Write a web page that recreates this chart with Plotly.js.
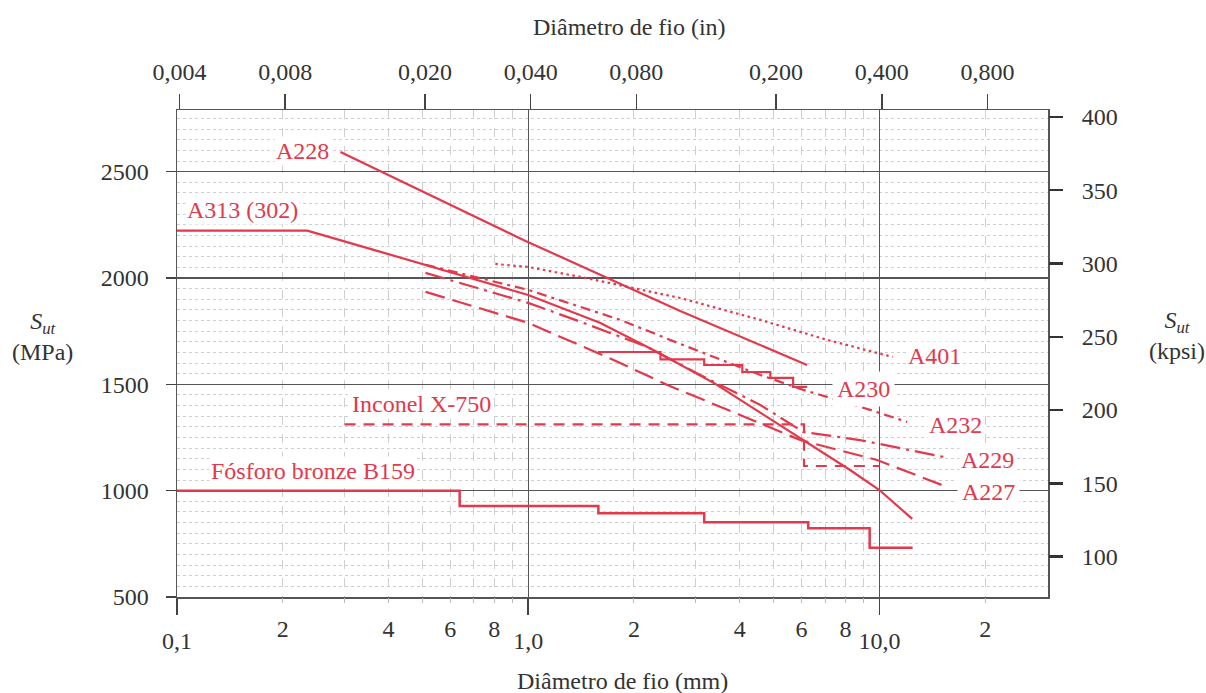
<!DOCTYPE html>
<html><head><meta charset="utf-8">
<script src="https://cdn.plot.ly/plotly-3.0.1.min.js"></script>
<style>html,body{margin:0;padding:0;background:#fff}#chart{width:1206px;height:693px}</style>
</head><body><div id="chart"></div>
<script>
// ---------- data (wire diameter in mm, Sut in MPa) ----------
const A228_d = [0.292, 0.969, 2.709, 6.22];
const A228_S = [2593, 2179, 1845, 1591];

const A313_d = [0.1, 0.235, 0.38, 0.51, 1.0, 1.6, 2.33, 3.41, 5.15, 8.25, 10.0, 12.4];
const A313_S = [2223, 2223, 2123, 2062, 1920, 1790, 1652, 1502, 1314, 1097, 1003, 867];

const A401_d = [0.806, 1.0, 1.41, 2.71, 4.58, 7.1, 10.9];
const A401_S = [2066, 2052, 2005, 1906, 1803, 1709, 1629];

const A232_d = [0.51, 1.0, 1.83, 2.71, 4.58, 6.07, 9.41, 12.0];
const A232_S = [2062, 1944, 1803, 1690, 1544, 1474, 1380, 1323];

const A229_d = [0.51, 1.0, 1.41, 2.18, 3.09, 4.58, 6.07, 8.81, 15.2];
const A229_S = [2024, 1883, 1794, 1676, 1544, 1403, 1276, 1238, 1159];

const A227_d = [0.51, 1.0, 1.75, 2.49, 4.01, 5.95, 9.85, 15.6];
const A227_S = [1935, 1789, 1615, 1497, 1356, 1238, 1144, 1017];

const A230_d = [1.58, 2.38, 3.17, 4.07, 4.89, 5.68, 6.23];
const A230_S = [1652, 1617, 1591, 1558, 1530, 1488, 1488];

const inconel_d = [0.3, 6.1, 10.0];
const inconel_S = [1312, 1116, 1116];

const B159_d = [0.1, 0.638, 1.584, 3.17, 6.27, 9.38, 12.43];
const B159_S = [1000, 928, 894, 851, 823, 732, 732];

// ---------- tick labels ----------
const mmMinorLabelVals = [0.2, 0.4, 0.6, 0.8, 2, 4, 6, 8, 20];
const mmMinorLabels    = ['2', '4', '6', '8', '2', '4', '6', '8', '2'];
const mmMinorGridVals  = [0.3, 0.5, 0.7, 0.9, 3, 5, 7, 9];
const mmDecadeVals     = [0.1, 1, 10];
const mmDecadeLabels   = ['0,1', '1,0', '10,0'];
const inTickVals   = [0.004, 0.008, 0.02, 0.04, 0.08, 0.2, 0.4, 0.8];
const inTickLabels = ['0,004', '0,008', '0,020', '0,040', '0,080', '0,200', '0,400', '0,800'];
const mpaTickVals  = [500, 1000, 1500, 2000, 2500];
const kpsiTickVals = [100, 150, 200, 250, 300, 350, 400];

const seriesNames = ['A228', 'A313 (302)', 'A401', 'A230', 'A232', 'A229', 'A227', 'Inconel X-750', 'Fósforo bronze B159'];

// ---------- styling ----------
const RED = '#e2394c';
const FONT = '"Liberation Serif", "Times New Roman", serif';
const L = 176.5, R = 1048, T = 110, B = 597;
const PX = x => (x - L) / (R - L);
const PY = y => (B - y) / (B - T);

const X_RANGE = [-1, 1.48];
const MM_PER_IN = 25.4;
const MPA_PER_KSI = 6.894757;
const Y_RANGE = [500, 2790];

function tr(name, d, s, dash, extra) {
  return Object.assign({
    type: 'scatter', mode: 'lines', name: name, x: d, y: s,
    xaxis: 'x', yaxis: 'y', hoverinfo: 'skip',
    line: { color: RED, width: 2.2, dash: dash }
  }, extra || {});
}

const data = [
  tr(seriesNames[0], A228_d, A228_S, 'solid'),
  tr(seriesNames[1], A313_d, A313_S, 'solid'),
  tr(seriesNames[2], A401_d, A401_S, '2.5px,3.5px'),
  tr(seriesNames[3], A230_d, A230_S, 'solid', { line: { color: RED, width: 2.2, shape: 'hv' } }),
  tr(seriesNames[4], A232_d, A232_S, '10px,5px,3px,5px'),
  tr(seriesNames[5], A229_d, A229_S, '20px,6px,3px,6px'),
  tr(seriesNames[6], A227_d, A227_S, '20px,8px'),
  tr(seriesNames[7], inconel_d, inconel_S, '11px,8px', { line: { color: RED, width: 2.2, dash: '11px,8px', shape: 'hv' } }),
  tr(seriesNames[8], B159_d, B159_S, 'solid', { line: { color: RED, width: 2.5, shape: 'hv' } }),
  // empty traces so the extra axes are registered
  { type: 'scatter', x: [], y: [], xaxis: 'x2', yaxis: 'y', hoverinfo: 'skip', showlegend: false },
  { type: 'scatter', x: [], y: [], xaxis: 'x3', yaxis: 'y', hoverinfo: 'skip', showlegend: false },
  { type: 'scatter', x: [], y: [], xaxis: 'x', yaxis: 'y2', hoverinfo: 'skip', showlegend: false }
];

const tickFont = { family: FONT, size: 24, color: '#333' };
const GRID_MINOR = '#cfcfcf';
const GRID_MAJOR = '#555';

const layout = {
  width: 1206, height: 693,
  margin: { l: L, r: 1206 - R, t: T, b: 693 - B, pad: 0 },
  paper_bgcolor: '#fff', plot_bgcolor: '#fff',
  showlegend: false,
  font: { family: FONT, size: 24, color: '#333' },
  xaxis: {
    type: 'log', range: X_RANGE, fixedrange: true,
    tickmode: 'array', tickvals: mmMinorLabelVals, ticktext: mmMinorLabels,
    ticks: 'outside', ticklen: 5, tickwidth: 1, tickcolor: '#bbb',
    tickfont: tickFont, ticklabelstandoff: 5,
    showgrid: true, gridcolor: GRID_MINOR, griddash: 'dash', gridwidth: 1,
    minor: { tickmode: 'array', tickvals: mmMinorGridVals, ticks: 'outside', ticklen: 5, tickcolor: '#bbb',
             showgrid: true, gridcolor: GRID_MINOR, griddash: 'dash', gridwidth: 1 },
    showline: false, zeroline: false
  },
  xaxis3: {
    type: 'log', range: X_RANGE, overlaying: 'x', side: 'bottom', anchor: 'y', fixedrange: true,
    tickmode: 'array', tickvals: mmDecadeVals, ticktext: mmDecadeLabels,
    ticks: 'outside', ticklen: 16, tickwidth: 1.5, tickcolor: '#444',
    tickfont: tickFont, ticklabelstandoff: 6,
    showgrid: true, gridcolor: GRID_MAJOR, gridwidth: 1.3,
    showline: true, linecolor: '#555', linewidth: 1.5, mirror: true, zeroline: false
  },
  xaxis2: {
    type: 'log', overlaying: 'x', side: 'top', anchor: 'y', fixedrange: true,
    range: [X_RANGE[0] - Math.log10(MM_PER_IN), X_RANGE[1] - Math.log10(MM_PER_IN)],
    tickmode: 'array', tickvals: inTickVals, ticktext: inTickLabels,
    ticks: 'outside', ticklen: 15, tickwidth: 1.5, tickcolor: '#444',
    tickfont: tickFont, ticklabelstandoff: 4,
    showgrid: false, showline: false, zeroline: false
  },
  yaxis: {
    range: Y_RANGE, fixedrange: true,
    tickmode: 'array', tickvals: mpaTickVals,
    ticks: 'outside', ticklen: 10, tickwidth: 1.5, tickcolor: '#444',
    tickfont: tickFont, ticklabelstandoff: 12,
    showgrid: true, gridcolor: GRID_MAJOR, gridwidth: 1.3,
    minor: { dtick: 50, showgrid: true, gridcolor: GRID_MINOR, griddash: 'dot', gridwidth: 1, ticks: '' },
    showline: true, linecolor: '#555', linewidth: 1.5, mirror: true, zeroline: false
  },
  yaxis2: {
    overlaying: 'y', side: 'right', anchor: 'x', fixedrange: true,
    range: [Y_RANGE[0] / MPA_PER_KSI, Y_RANGE[1] / MPA_PER_KSI],
    tickmode: 'array', tickvals: kpsiTickVals,
    ticks: 'outside', ticklen: 14, tickwidth: 2.5, tickcolor: '#333',
    tickfont: tickFont, ticklabelstandoff: 14,
    showgrid: false, showline: false, zeroline: false
  },
  annotations: []
};

function ann(text, x, y, opts) {
  return Object.assign({
    text: text, xref: 'paper', yref: 'paper', x: PX(x), y: PY(y),
    xanchor: 'center', yanchor: 'middle', showarrow: false,
    font: { family: FONT, size: 24, color: RED },
    bgcolor: 'rgba(255,255,255,1)', borderpad: 1
  }, opts || {});
}

// series labels
layout.annotations.push(ann(seriesNames[0], 302, 151));
layout.annotations.push(ann(seriesNames[1], 242, 210));
layout.annotations.push(ann(seriesNames[2], 934, 356));
layout.annotations.push(ann(seriesNames[3], 863, 389, { borderpad: 4 }));
layout.annotations.push(ann(seriesNames[4], 955, 425));
layout.annotations.push(ann(seriesNames[5], 987, 460));
layout.annotations.push(ann(seriesNames[6], 988, 492, { borderpad: 4 }));
layout.annotations.push(ann(seriesNames[7], 421, 404));
layout.annotations.push(ann(seriesNames[8], 313, 471));

// axis titles
const titleFont = { family: FONT, size: 24, color: '#333' };
layout.annotations.push(ann('Diâmetro de fio (in)', 629, 27, { font: titleFont, bgcolor: 'rgba(0,0,0,0)' }));
layout.annotations.push(ann('Diâmetro de fio (mm)', 622, 681, { font: titleFont, bgcolor: 'rgba(0,0,0,0)' }));
layout.annotations.push(ann('<i>S</i><sub><i>ut</i></sub><br>(MPa)', 42, 336, { font: titleFont, bgcolor: 'rgba(0,0,0,0)' }));
layout.annotations.push(ann('<i>S</i><sub><i>ut</i></sub><br>(kpsi)', 1177, 335, { font: titleFont, bgcolor: 'rgba(0,0,0,0)' }));

Plotly.newPlot('chart', data, layout, { staticPlot: true, displayModeBar: false });
</script>
</body></html>
